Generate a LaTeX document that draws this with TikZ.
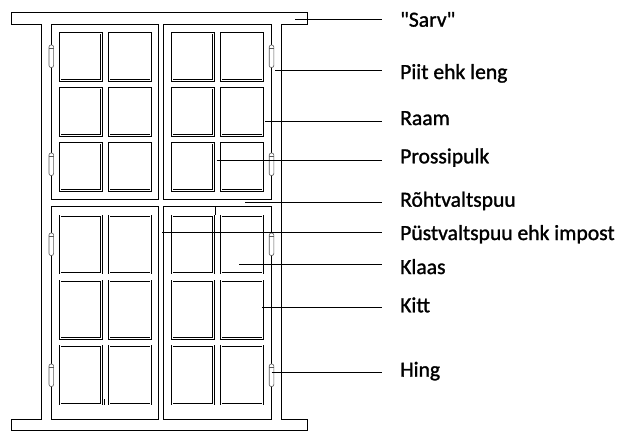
\documentclass[tikz,border=0pt]{standalone}
\usepackage{fontspec}
\setmainfont{Carlito}[Ligatures=TeXOff,FakeBold=1.3]
\usetikzlibrary{positioning}
\usetikzlibrary{calc}
\begin{document}
\begin{tikzpicture}[x=1pt,y=-1pt]
\tikzstyle{wood}=[draw,line width=0.9pt]
\tikzstyle{pane}=[draw,double,line width=0.85pt,double distance=0.85pt]
\tikzstyle{hinge}=[draw=black!65,fill=white,line width=0.6pt,rounded corners=2pt]
\tikzstyle{lab}=[anchor=base west,inner sep=0pt,font=\fontsize{21.6}{26}\selectfont]
\tikzstyle{lead}=[line width=0.9pt,shorten >=18.3pt]
\useasboundingbox (0,0) rectangle (628,440);

% piit ja sarved
\draw[wood] (11.7,12.3) -- (307,12.3) -- (307,24.3) -- (281.7,24.3) -- (281.7,419)
  -- (307,419) -- (307,430.3) -- (11.7,430.3) -- (11.7,419) -- (41.7,419)
  -- (41.7,24.3) -- (11.7,24.3) -- cycle;

% raamid
\draw[wood] (51.3,24.3) rectangle (158.3,199.3);
\draw[wood] (163.3,24.3) rectangle (271.7,199.3);
\draw[wood] (51.3,206) rectangle (158.3,419);
\draw[wood] (163.3,206) rectangle (271.7,419);

% klaasid
\foreach \xa/\xb in {59.3/102.3,108.3/151.7,171.3/214.3,220.3/263.7}
  \foreach \ya/\yb in {32.3/81.3,87.3/136.3,142.3/191.3,215/274,280/339.3,345/405}
    \draw[pane] (\xa+0.85,\ya+0.85) rectangle (\xb-0.85,\yb-0.85);
\draw[wood] (104.3,399) -- (104.3,405);
\draw[wood] (215.8,206) -- (215.8,215);

% hinged
\foreach \hx in {51.3,271.5}
  \foreach \hy in {45,153,233,364} {
    \draw[hinge] (\hx-2.3,\hy) rectangle (\hx+2.3,\hy+22.5);
    \draw[black!65,line width=0.6pt] (\hx-2.3,\hy+3.5) -- (\hx+2.3,\hy+3.5);
  }

\coordinate (pt0) at (295,19);
\coordinate (pt1) at (275,70.7);
\coordinate (pt2) at (265,121);
\coordinate (pt3) at (216.7,160);
\coordinate (pt4) at (245,202.3);
\coordinate (pt5) at (162.3,232);
\coordinate (pt6) at (239.3,264);
\coordinate (pt7) at (262.3,307.3);
\coordinate (pt8) at (271.7,372.7);

\node[lab] (lab0) at (400,26.7) {"Sarv"};
\node[lab] (lab1) at (400,79) {Piit ehk leng};
\node[lab] (lab2) at (400,125) {Raam};
\node[lab] (lab3) at (400,163.3) {Prossipulk};
\node[lab] (lab4) at (400,206.7) {Rõhtvaltspuu};
\node[lab] (lab5) at (400,240) {Püstvaltspuu ehk impost};
\node[lab] (lab6) at (400,274) {Klaas};
\node[lab] (lab7) at (400,312.3) {Kitt};
\node[lab] (lab8) at (400,376.7) {Hing};

\foreach \i in {0,...,8}
  \draw[lead] (pt\i) -- (pt\i -| lab\i.west);
\end{tikzpicture}
\end{document}
